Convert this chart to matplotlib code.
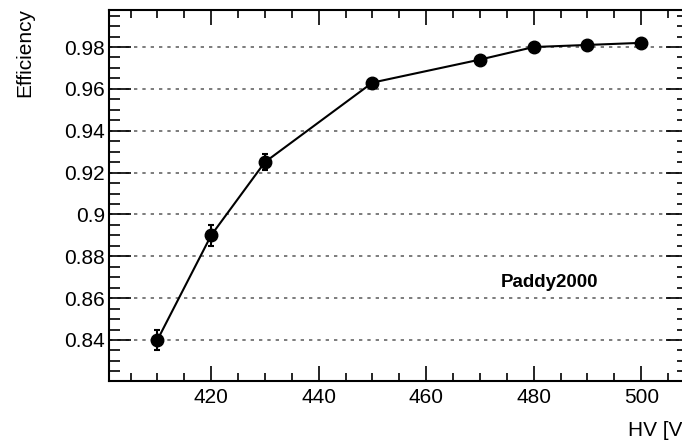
import matplotlib.pyplot as plt
from matplotlib.ticker import MultipleLocator

plt.rcParams['font.family'] = ['Liberation Sans', 'DejaVu Sans']

# HV scan of the efficiency
hv = [410, 420, 430, 450, 470, 480, 490, 500]
eff = [0.840, 0.890, 0.925, 0.963, 0.974, 0.980, 0.981, 0.982]
eff_err = [0.005, 0.005, 0.004, 0.0015, 0.0012, 0.0012, 0.0012, 0.0012]

fig = plt.figure(figsize=(6.82, 4.46), dpi=100)
# frame runs past the right edge of the canvas
ax = fig.add_axes([109 / 682, 65 / 446, 579 / 682, 371 / 446])

ax.errorbar(hv, eff, yerr=eff_err, fmt='o', color='black', ms=9,
            elinewidth=1.5, capsize=2.5, capthick=1.5, zorder=3)
ax.plot(hv, eff, color='black', lw=1.5, zorder=2)

ax.set_xlim(401, 508.7)
ax.set_ylim(0.8204, 0.9977)

ax.xaxis.set_major_locator(MultipleLocator(20))
ax.xaxis.set_minor_locator(MultipleLocator(5))
ax.yaxis.set_major_locator(MultipleLocator(0.02))
ax.yaxis.set_minor_locator(MultipleLocator(0.005))
ax.yaxis.set_major_formatter(plt.FuncFormatter(lambda v, p: f'{v:.2f}'.rstrip('0')))

ax.tick_params(which='both', direction='in', top=True, right=True, labelsize=15, width=1.2)
ax.tick_params(which='major', length=11)
ax.tick_params(which='minor', length=6)
ax.tick_params(axis='y', which='major', length=16)
ax.tick_params(axis='y', which='minor', length=8)
ax.tick_params(axis='x', pad=5)
ax.tick_params(axis='y', pad=3)

ax.grid(axis='y', which='major', color='#666666', ls=(0, (2, 3)), lw=1.2)
for s in ax.spines.values():
    s.set_linewidth(1.5)

ax.text(482.9, 0.8677, 'Paddy2000', fontsize=13.5, fontweight='bold',
        ha='center', va='center')

fig.text(688 / 682, 1 - 430 / 446, 'HV [V]', fontsize=15, ha='right', va='center')
fig.text(25 / 682, 1 - 8 / 446, 'Efficiency', fontsize=15, rotation=90,
         ha='center', va='top')

fig.savefig('out.png', dpi=100)
